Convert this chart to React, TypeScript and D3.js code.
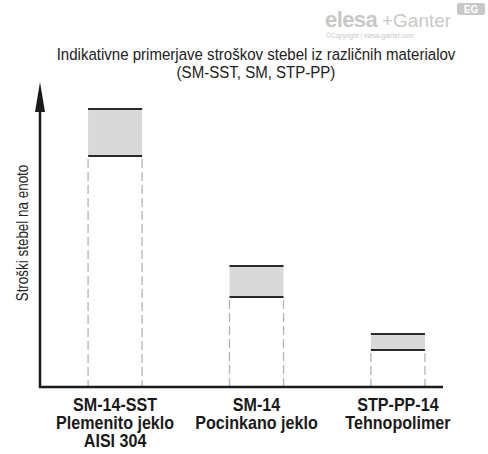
import { useEffect, useRef } from 'react';
import * as d3 from 'd3';

// cost ranges per stem type, in arbitrary units (no scale shown)
const categories = ['SM-14-SST', 'SM-14', 'STP-PP-14'];
const materials = [['Plemenito jeklo', 'AISI 304'], ['Pocinkano jeklo'], ['Tehnopolimer']];
const costMin = [231, 90, 37];
const costMax = [278, 121, 53];

const titleLines = ['Indikativne primerjave stroškov stebel iz različnih materialov', '(SM-SST, SM, STP-PP)'];
const yLabel = 'Stroški stebel na enoto';

const FONT = 'Liberation Sans, Arial, sans-serif';

export default function App() {
    const svgRef = useRef<SVGSVGElement>(null);

    useEffect(() => {
        if (!svgRef.current) return;
        const svg = d3.select(svgRef.current);
        svg.selectAll('*').remove();

        const width = 488;
        const height = 454;
        const x0 = 40;
        const x1 = 443;
        const yBase = 387;

        const x = d3.scaleBand<string>()
            .domain(categories)
            .range([x0, 473])
            .paddingInner(0.618)
            .paddingOuter(0.34);

        const y = d3.scaleLinear().domain([0, 305]).range([yBase, 82]);

        svg.attr('width', width).attr('height', height);
        svg.append('rect').attr('width', width).attr('height', height).attr('fill', '#fff');

        // watermark
        const wm = svg.append('g').attr('fill', '#c8c8c8').style('font-family', FONT);
        wm.append('text')
            .attr('x', 325).attr('y', 27)
            .style('font-size', '22px')
            .style('font-weight', 'bold')
            .style('letter-spacing', '-0.6px')
            .text('elesa');
        wm.append('text')
            .attr('x', 382).attr('y', 27)
            .style('font-size', '19px')
            .text('+Ganter');
        wm.append('text')
            .attr('x', 326).attr('y', 38)
            .style('font-size', '6.5px')
            .text('©Copyright | elesa-ganter.com');
        wm.append('rect')
            .attr('x', 457).attr('y', 3).attr('width', 28).attr('height', 12).attr('rx', 2);
        wm.append('text')
            .attr('x', 471).attr('y', 13).attr('text-anchor', 'middle')
            .attr('fill', '#fff')
            .style('font-size', '10px')
            .style('font-weight', 'bold')
            .text('EG');

        // title (condensed look)
        svg.append('text')
            .attr('transform', 'translate(256,0) scale(0.885,1)')
            .attr('text-anchor', 'middle')
            .attr('fill', '#222')
            .style('font-family', FONT)
            .style('font-size', '17px')
            .selectAll('tspan')
            .data(titleLines)
            .join('tspan')
            .attr('x', 0)
            .attr('y', (_, i) => 60 + i * 18)
            .text((d) => d);

        // bars
        categories.forEach((c, i) => {
            const bx = x(c)!;
            const bw = x.bandwidth();
            svg.append('rect')
                .attr('x', bx).attr('y', y(costMax[i]))
                .attr('width', bw).attr('height', y(costMin[i]) - y(costMax[i]))
                .attr('fill', '#d9d9d9');
            [bx, bx + bw].forEach((lx) => {
                svg.append('line')
                    .attr('x1', lx).attr('x2', lx)
                    .attr('y1', y(costMin[i]) + 3).attr('y2', yBase)
                    .attr('stroke', '#b4b4b4')
                    .attr('stroke-width', 1.3)
                    .attr('stroke-dasharray', '9,4');
            });
            [costMax[i], costMin[i]].forEach((v) => {
                svg.append('line')
                    .attr('x1', bx).attr('x2', bx + bw)
                    .attr('y1', y(v)).attr('y2', y(v))
                    .attr('stroke', '#2a2a2a')
                    .attr('stroke-width', 2);
            });

            const labels = [c, ...materials[i]];
            svg.append('text')
                .attr('transform', `translate(${bx + bw / 2},0) scale(0.92,1)`)
                .attr('text-anchor', 'middle')
                .attr('fill', '#1a1a1a')
                .style('font-family', FONT)
                .style('font-size', '17.5px')
                .style('font-weight', 'bold')
                .selectAll('tspan')
                .data(labels)
                .join('tspan')
                .attr('x', 0)
                .attr('y', (_, j) => 411 + j * 17.8)
                .text((d) => d);
        });

        // axes
        svg.append('line')
            .attr('x1', x0).attr('x2', x0)
            .attr('y1', 105).attr('y2', yBase + 1)
            .attr('stroke', '#1a1a1a').attr('stroke-width', 2.5);
        svg.append('line')
            .attr('x1', x0 - 1).attr('x2', x1)
            .attr('y1', yBase).attr('y2', yBase)
            .attr('stroke', '#1a1a1a').attr('stroke-width', 2.5);
        svg.append('path')
            .attr('d', `M${x0},${y(305)} L${x0 + 5},${y(305) + 30} L${x0 - 5},${y(305) + 30} Z`)
            .attr('fill', '#1a1a1a');

        // y label
        svg.append('text')
            .attr('transform', 'translate(28,233) rotate(-90) scale(0.84,1)')
            .attr('text-anchor', 'middle')
            .attr('fill', '#222')
            .style('font-family', FONT)
            .style('font-size', '16px')
            .text(yLabel);
    }, []);

    return (
        <div style={{ position: 'absolute', left: 0, top: 0 }}>
            <svg ref={svgRef}></svg>
        </div>
    );
}
